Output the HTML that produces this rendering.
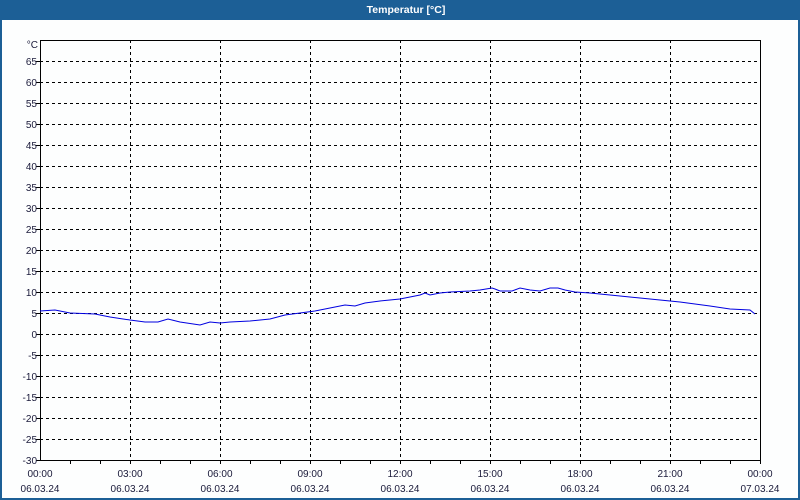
<!DOCTYPE html>
<html><head><meta charset="utf-8"><style>
html,body{margin:0;padding:0;width:800px;height:500px;overflow:hidden;background:#fff}
</style></head><body>
<svg width="800" height="500" xmlns="http://www.w3.org/2000/svg" font-family="Liberation Sans, sans-serif" font-size="10" fill="#1a1a3a">
<rect x="0" y="0" width="800" height="500" fill="#1c5f96"/>
<rect x="2" y="20" width="796" height="478" fill="#fdfefe"/>
<text x="406" y="13" text-anchor="middle" fill="#fff" font-weight="bold" font-size="10.5">Temperatur [°C]</text>
<g stroke="#000" stroke-dasharray="3,3" stroke-width="1">
<path d="M40 61.5H760M40 82.5H760M40 103.5H760M40 124.5H760M40 145.5H760M40 166.5H760M40 187.5H760M40 208.5H760M40 229.5H760M40 250.5H760M40 271.5H760M40 292.5H760M40 313.5H760M40 334.5H760M40 355.5H760M40 376.5H760M40 397.5H760M40 418.5H760M40 439.5H760"/>
<path d="M130.5 40V460M220.5 40V460M310.5 40V460M400.5 40V460M490.5 40V460M580.5 40V460M670.5 40V460"/>
</g>
<rect x="40.5" y="40.5" width="720" height="420" fill="none" stroke="#000"/>
<g stroke="#000"><path d="M70.5 460v4M100.5 460v4M130.5 460v4M160.5 460v4M190.5 460v4M220.5 460v4M250.5 460v4M280.5 460v4M310.5 460v4M340.5 460v4M370.5 460v4M400.5 460v4M430.5 460v4M460.5 460v4M490.5 460v4M520.5 460v4M550.5 460v4M580.5 460v4M610.5 460v4M640.5 460v4M670.5 460v4M700.5 460v4M730.5 460v4M760.5 460v4M36 61.5h4M36 82.5h4M36 103.5h4M36 124.5h4M36 145.5h4M36 166.5h4M36 187.5h4M36 208.5h4M36 229.5h4M36 250.5h4M36 271.5h4M36 292.5h4M36 313.5h4M36 334.5h4M36 355.5h4M36 376.5h4M36 397.5h4M36 418.5h4M36 439.5h4M36 460.5h4"/></g>
<g text-anchor="end">
<text x="38" y="48">°C</text>
<text x="37" y="65">65</text><text x="37" y="86">60</text><text x="37" y="107">55</text><text x="37" y="128">50</text><text x="37" y="149">45</text><text x="37" y="170">40</text><text x="37" y="191">35</text><text x="37" y="212">30</text><text x="37" y="233">25</text><text x="37" y="254">20</text><text x="37" y="275">15</text><text x="37" y="296">10</text><text x="37" y="317">5</text><text x="37" y="338">0</text><text x="37" y="359">-5</text><text x="37" y="380">-10</text><text x="37" y="401">-15</text><text x="37" y="422">-20</text><text x="37" y="443">-25</text><text x="37" y="464">-30</text>
</g>
<g text-anchor="middle">
<text x="40" y="477">00:00</text><text x="130" y="477">03:00</text><text x="220" y="477">06:00</text><text x="310" y="477">09:00</text><text x="400" y="477">12:00</text><text x="490" y="477">15:00</text><text x="580" y="477">18:00</text><text x="670" y="477">21:00</text><text x="760" y="477">00:00</text>
<text x="40" y="492">06.03.24</text><text x="130" y="492">06.03.24</text><text x="220" y="492">06.03.24</text><text x="310" y="492">06.03.24</text><text x="400" y="492">06.03.24</text><text x="490" y="492">06.03.24</text><text x="580" y="492">06.03.24</text><text x="670" y="492">06.03.24</text><text x="760" y="492">07.03.24</text>
</g>
<polyline fill="none" stroke="#0000e0" stroke-width="1" points="40,311 55,310 70,313 95,314 110,317 130,320 145,322 158,322 168,319 180,322 200,325 210,322 220,323 230,322 250,321 270,319 285,315 300,313 315,311 330,308 345,305 355,306 365,303 380,301 400,299 420,295 425,293 430,295 440,293 450,292 470,291 480,290 492,288 495,289 500,291 512,291 520,288 530,290 540,291 550,288 558,288 565,290 575,292 590,293 620,296 650,299 680,302 710,306 730,309 750,310 755,314"/>
</svg>
</body></html>
